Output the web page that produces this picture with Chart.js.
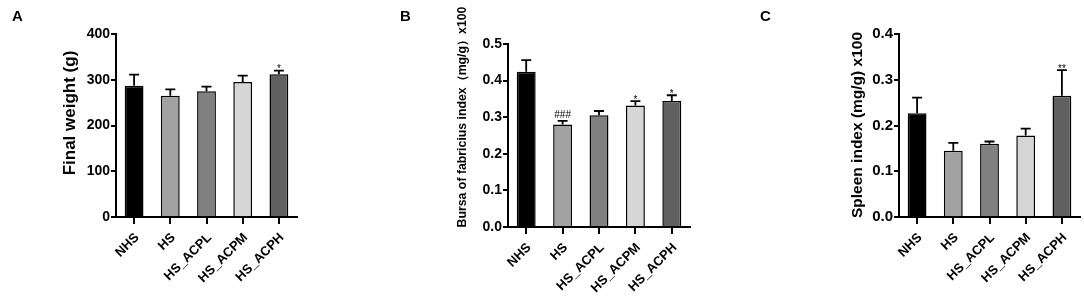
<!DOCTYPE html>
<html>
<head>
<meta charset="utf-8">
<script src="https://cdn.jsdelivr.net/npm/chart.js@4.4.1/dist/chart.umd.min.js"></script>
<style>
  body { margin: 0; background: #fff; }
  #wrap { position: relative; width: 1084px; height: 296px; overflow: hidden; }
  canvas { position: absolute; top: 0; }
  .lbl { position: absolute; font: bold 15px "Liberation Sans", Arial, sans-serif; color: #000; }
</style>
</head>
<body>
<div id="wrap">
  <canvas id="chartA" width="360" height="296" style="left:0px"></canvas>
  <canvas id="chartB" width="360" height="296" style="left:360px"></canvas>
  <canvas id="chartC" width="364" height="296" style="left:720px"></canvas>
  <div class="lbl" style="left:12px;top:7px">A</div>
  <div class="lbl" style="left:400px;top:7px">B</div>
  <div class="lbl" style="left:760px;top:7px">C</div>
</div>
<script>
// grupos y valores (media + error)
const groups = ['NHS', 'HS', 'HS_ACPL', 'HS_ACPM', 'HS_ACPH'];
const barColors = ['#000000', '#a2a2a2', '#808080', '#d6d6d6', '#606060'];

const weightMean = [287, 265, 275, 295, 312];
const weightErr = [24, 14, 10, 14, 8];
const weightMarks = ['', '', '', '', '*'];

const bursaMean = [0.424, 0.280, 0.305, 0.332, 0.344];
const bursaErr = [0.032, 0.010, 0.012, 0.012, 0.016];
const bursaMarks = ['', '###', '', '*', '*'];

const spleenMean = [0.227, 0.145, 0.160, 0.178, 0.265];
const spleenErr = [0.034, 0.017, 0.005, 0.015, 0.056];
const spleenMarks = ['', '', '', '', '**'];

const FONT = '"Liberation Sans", Arial, sans-serif';

// barras de error hacia arriba + marcas de significancia
const errorBars = {
    id: 'errorBars',
    afterDatasetsDraw(chart, args, opts) {
        const c = chart.ctx;
        const meta = chart.getDatasetMeta(0);
        const y = chart.scales.y;
        c.save();
        c.strokeStyle = '#000';
        c.lineWidth = 1.8;
        meta.data.forEach((bar, i) => {
            const top = y.getPixelForValue(opts.mean[i] + opts.err[i]);
            const base = y.getPixelForValue(opts.mean[i]);
            c.beginPath();
            c.moveTo(bar.x, base);
            c.lineTo(bar.x, top);
            c.moveTo(bar.x - 5, top);
            c.lineTo(bar.x + 5, top);
            c.stroke();
            if (opts.marks[i]) {
                c.fillStyle = '#000';
                c.font = '10px ' + FONT;
                c.textAlign = 'center';
                c.textBaseline = 'bottom';
                c.fillText(opts.marks[i], bar.x, top + (opts.marks[i] === '###' ? -1 : 4));
            }
        });
        c.restore();
    }
};

// titulo del eje Y dibujado a mano para poder moverlo
const sideTitle = {
    id: 'sideTitle',
    afterDraw(chart, args, opts) {
        const c = chart.ctx;
        c.save();
        c.translate(opts.x, opts.y);
        c.rotate(-Math.PI / 2);
        c.fillStyle = '#000';
        c.font = 'bold ' + opts.size + 'px ' + FONT;
        c.textAlign = 'center';
        c.textBaseline = 'middle';
        c.fillText(opts.text, 0, 0);
        c.restore();
    }
};

function makeChart(id, mean, err, marks, cfg) {
    const ctx = document.getElementById(id).getContext('2d');
    return new Chart(ctx, {
        type: 'bar',
        data: {
            labels: groups,
            datasets: [{
                data: mean,
                backgroundColor: barColors,
                borderColor: '#000',
                borderWidth: 1.5,
                barPercentage: 0.52,
                categoryPercentage: 1
            }]
        },
        plugins: [errorBars, sideTitle],
        options: {
            responsive: false,
            animation: false,
            layout: { padding: { left: 0, top: cfg.top, right: cfg.padRight, bottom: 0 } },
            scales: {
                x: {
                    offset: true,
                    afterFit: (s) => { s.height = 296 - cfg.bottom; },
                    grid: { offset: false, drawOnChartArea: false, color: '#000', lineWidth: 2, tickLength: 7 },
                    border: { color: '#000', width: 2 },
                    ticks: {
                        color: '#000', maxRotation: 45, minRotation: 45, padding: 6, labelOffset: 3,
                        font: { family: FONT, weight: 'bold', size: 13 }
                    }
                },
                y: {
                    min: 0,
                    max: cfg.max,
                    afterFit: (s) => { s.width = cfg.left; },
                    grid: { drawOnChartArea: false, color: '#000', lineWidth: 2, tickLength: 5 },
                    border: { color: '#000', width: 2 },
                    ticks: {
                        stepSize: cfg.step, color: '#000', padding: 1,
                        font: { family: FONT, weight: 'bold', size: cfg.yFont },
                        callback: (v) => cfg.step < 1 ? v.toFixed(1) : v
                    }
                }
            },
            plugins: {
                legend: { display: false },
                tooltip: { enabled: false },
                errorBars: { mean: mean, err: err, marks: marks },
                sideTitle: { text: cfg.title, size: cfg.titleFont, x: cfg.titleX, y: cfg.titleY }
            }
        }
    });
}

makeChart('chartA', weightMean, weightErr, weightMarks, {
    left: 116, top: 34, padRight: 63, bottom: 217, max: 400, step: 100, yFont: 14,
    title: 'Final weight (g)', titleFont: 17, titleX: 70, titleY: 113
});

makeChart('chartB', bursaMean, bursaErr, bursaMarks, {
    left: 148, top: 44, padRight: 30, bottom: 227, max: 0.5, step: 0.1, yFont: 14,
    title: 'Bursa of fabricius index（mg/g）x100', titleFont: 12.3, titleX: 103, titleY: 117
});

makeChart('chartC', spleenMean, spleenErr, spleenMarks, {
    left: 179, top: 34, padRight: 4, bottom: 217, max: 0.4, step: 0.1, yFont: 15,
    title: 'Spleen index (mg/g) x100', titleFont: 15.5, titleX: 138, titleY: 125
});
</script>
</body>
</html>
